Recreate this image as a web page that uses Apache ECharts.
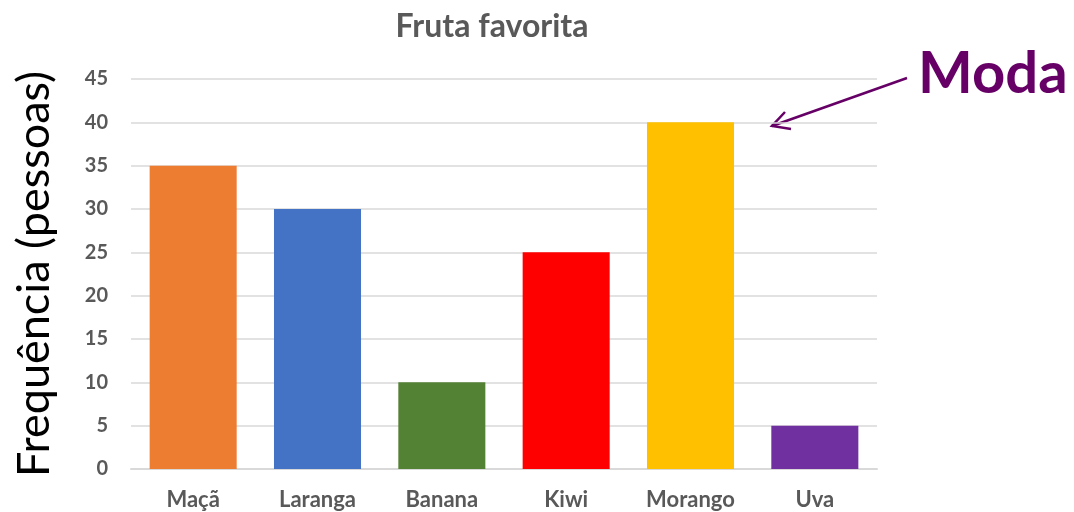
<!DOCTYPE html>
<html>
<head>
<meta charset="utf-8">
<script src="https://cdn.jsdelivr.net/npm/echarts@6/dist/echarts.min.js"></script>
<style>
  html, body { margin: 0; padding: 0; background: #fff; }
  #chart { width: 1074px; height: 512px; }
</style>
</head>
<body>
<div id="chart"></div>
<script>
// Favourite fruit survey
const categories = ['Maçã', 'Laranga', 'Banana', 'Kiwi', 'Morango', 'Uva'];
const frequencies = [35, 30, 10, 25, 40, 5];
const barColors = ['#ED7D31', '#4472C4', '#548235', '#FF0000', '#FFC000', '#7030A0'];
const yTicks = [0, 5, 10, 15, 20, 25, 30, 35, 40, 45];

const FONT = 'Lato, "Open Sans", sans-serif';
const chart = echarts.init(document.getElementById('chart'));

chart.setOption({
  animation: false,
  title: {
    text: 'Fruta favorita',
    left: 487, top: 6, textAlign: 'center',
    textStyle: { fontFamily: FONT, fontSize: 32, fontWeight: 'bold', color: '#595959' }
  },
  grid: { left: 131, right: 197, top: 79, bottom: 43, containLabel: false },
  xAxis: {
    type: 'category',
    data: categories,
    axisLine: { lineStyle: { color: '#D9D9D9', width: 2 } },
    axisTick: { show: false },
    axisLabel: { fontFamily: FONT, fontSize: 22, fontWeight: 'bold', color: '#595959', margin: 20 }
  },
  yAxis: {
    type: 'value',
    min: yTicks[0], max: yTicks[yTicks.length - 1], interval: 5,
    name: 'Frequência (pessoas)',
    nameLocation: 'middle',
    nameGap: 74,
    nameTextStyle: { fontFamily: FONT, fontSize: 45, color: '#000' },
    axisLine: { show: false },
    axisTick: { show: false },
    splitLine: { lineStyle: { color: '#D9D9D9', width: 1.5 } },
    axisLabel: { fontFamily: FONT, fontSize: 20, fontWeight: 'bold', color: '#595959', margin: 23 }
  },
  series: [{
    type: 'bar',
    data: frequencies.map((v, i) => ({ value: v, itemStyle: { color: barColors[i] } })),
    barCategoryGap: '30%'
  }],
  graphic: [
    {
      type: 'text', left: 918, top: 45,
      style: { text: 'Moda', font: 'bold 58px ' + FONT, fill: '#660066' }
    },
    {
      type: 'line',
      shape: { x1: 907, y1: 78, x2: 772, y2: 126 },
      style: { stroke: '#660066', lineWidth: 2.5 }
    },
    {
      type: 'polyline',
      shape: { points: [[785, 112], [772, 126], [791, 129]] },
      style: { stroke: '#660066', lineWidth: 2.5, fill: null }
    }
  ]
});
</script>
</body>
</html>
